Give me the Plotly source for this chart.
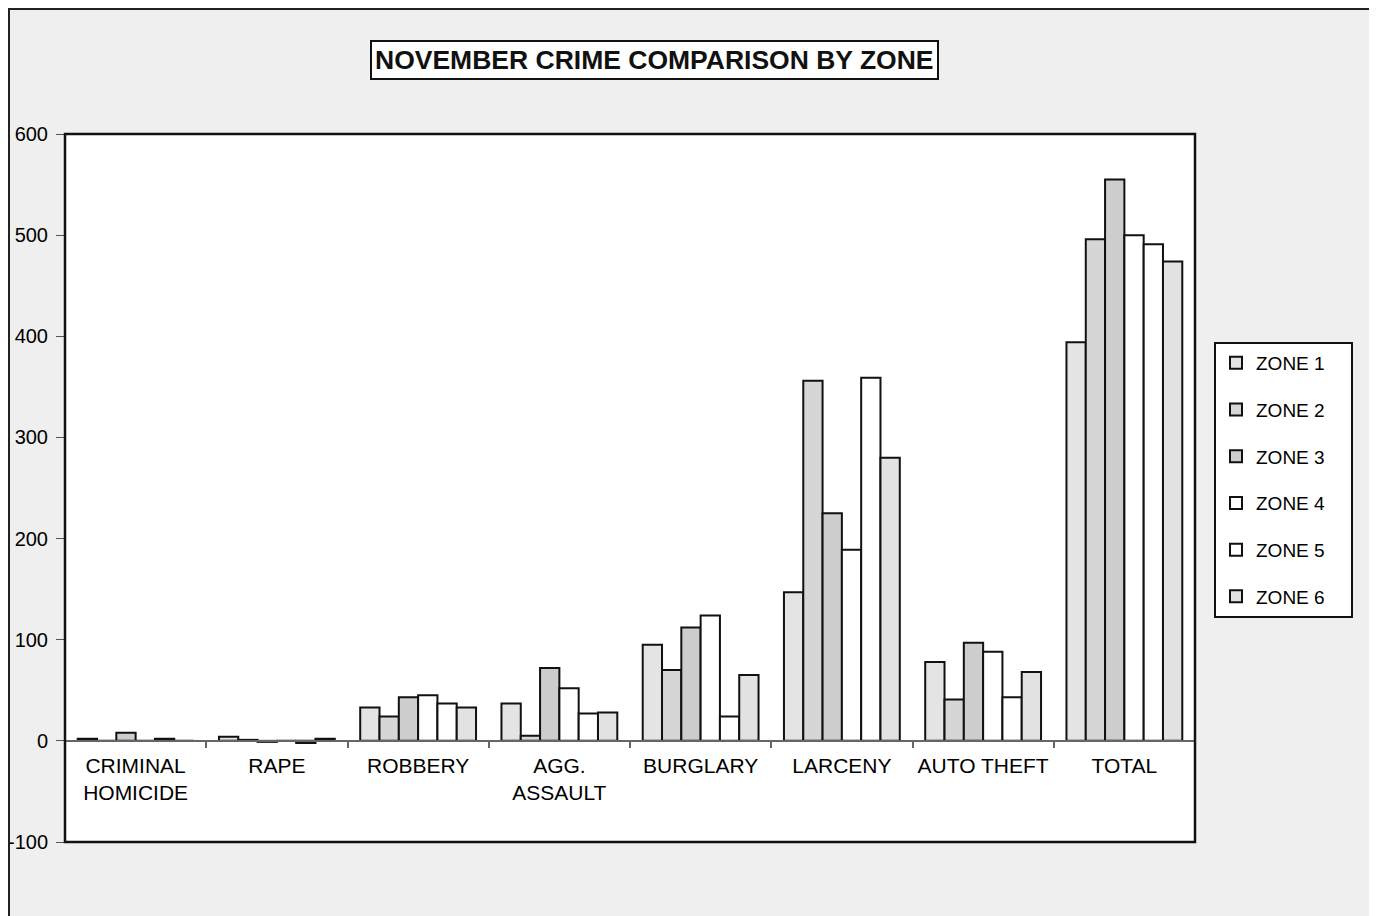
import plotly.graph_objects as go

categories = ["CRIMINAL<br>HOMICIDE", "RAPE", "ROBBERY", "AGG.<br>ASSAULT",
              "BURGLARY", "LARCENY", "AUTO THEFT", "TOTAL"]
zone_names = ["ZONE 1", "ZONE 2", "ZONE 3", "ZONE 4", "ZONE 5", "ZONE 6"]

zone1 = [2, 4, 33, 37, 95, 147, 78, 394]
zone2 = [0, 1, 24, 5, 70, 356, 41, 496]
zone3 = [8, -1, 43, 72, 112, 225, 97, 555]
zone4 = [0, 0, 45, 52, 124, 189, 88, 500]
zone5 = [2, -2, 37, 27, 24, 359, 43, 491]
zone6 = [0, 2, 33, 28, 65, 280, 68, 474]

zone_values = [zone1, zone2, zone3, zone4, zone5, zone6]
zone_colors = ["#e4e4e4", "#d6d6d6", "#cdcdcd", "#ffffff", "#ffffff", "#e2e2e2"]

y_ticks = [-100, 0, 100, 200, 300, 400, 500, 600]
y_tick_labels = ["-100", "0", "100", "200", "300", "400", "500", "600"]

fig = go.Figure()
for i, (name, vals) in enumerate(zip(zone_names, zone_values)):
    fig.add_trace(go.Bar(
        x=categories, y=vals, name=name + "\u00a0\u00a0\u00a0\u00a0",
        marker=dict(color=zone_colors[i], line=dict(color="#111111", width=2)),
        legendgroup=f"g{i}",
    ))

FONT = "Liberation Sans, Arial, sans-serif"

# the page places the figure at (8, 8); geometry below compensates for that
fig.update_layout(
    width=1369, height=908,
    paper_bgcolor="#efefef",
    plot_bgcolor="#ffffff",
    margin=dict(l=57, r=182, t=126, b=74, autoexpand=False),
    barmode="group", bargap=0.18, bargroupgap=0,
    font=dict(family=FONT, size=21, color="#000000"),
    showlegend=True,
    legend=dict(
        x=(1214 - 65) / 1130, y=(842 - 342) / 708, xanchor="left", yanchor="top",
        bgcolor="#ffffff", bordercolor="#111111", borderwidth=2,
        font=dict(family=FONT, size=19, color="#000000"),
        tracegroupgap=19, itemwidth=30,
    ),
    xaxis=dict(
        anchor="free", position=100 / 700, automargin=False,
        showline=True, linecolor="#666666", linewidth=2,
        ticks="outside", ticklen=6, tickcolor="#666666", tickwidth=2,
        tickson="boundaries", ticklabelstandoff=6,
        showgrid=False,
        tickfont=dict(family=FONT, size=21, color="#000000"),
    ),
    yaxis=dict(
        range=[-100, 600], tickvals=y_ticks, ticktext=y_tick_labels,
        automargin=False,
        showgrid=False, zeroline=False, showline=False,
        ticks="outside", ticklen=8, tickcolor="#555555",
        ticklabelstandoff=4,
        tickfont=dict(family=FONT, size=20, color="#000000"),
    ),
    shapes=[
        dict(type="rect", xref="paper", yref="paper", x0=0, y0=0, x1=1, y1=1,
             line=dict(color="#111111", width=2.5)),
        dict(type="rect", xref="paper", yref="paper",
             x0=(9 - 65) / 1130, y0=-0.11, x1=(1372 - 65) / 1130, y1=(842 - 9) / 708,
             line=dict(color="#222222", width=2)),
    ],
    annotations=[
        dict(text="<b>NOVEMBER CRIME COMPARISON BY ZONE</b>", xref="paper", yref="paper",
             x=(654 - 65) / 1130, y=(842 - 60) / 708, xanchor="center", yanchor="middle",
             showarrow=False,
             font=dict(family=FONT, size=26.5, color="#111111"),
             bgcolor="#ffffff", bordercolor="#111111", borderwidth=2, borderpad=3),
    ],
)

fig.write_html("out.html")
